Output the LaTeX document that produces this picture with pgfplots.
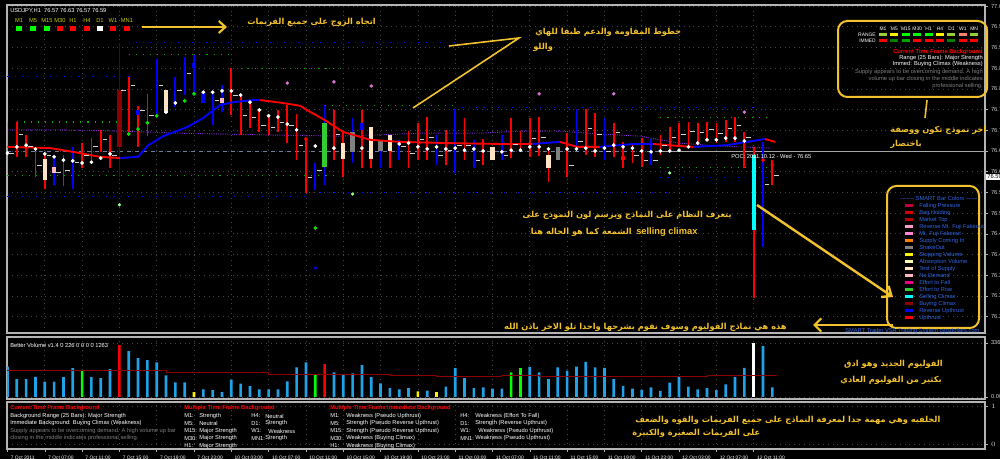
\documentclass[border=0pt]{standalone}
\usepackage{fontspec}
\setmainfont{Liberation Sans}
\newfontfamily\arabicfont[Script=Arabic]{DejaVu Sans}
\TeXXeTstate=1
\usepackage{pgfplots}
\usepackage{pgfplotstable}
\pgfplotsset{compat=1.18}
\usetikzlibrary{arrows.meta}

\definecolor{barred}{HTML}{FF0000}
\definecolor{barblue}{HTML}{0000FF}
\definecolor{bisq}{HTML}{FFE4C4}
\definecolor{pinkb}{HTML}{FFB6C1}
\definecolor{dred}{HTML}{8B0000}
\definecolor{effrise}{HTML}{32CD32}
\definecolor{shake}{HTML}{808080}
\definecolor{aqua}{HTML}{00FFFF}
\definecolor{salm}{HTML}{FA8072}
\definecolor{ygreen}{HTML}{9ACD32}
\definecolor{volblue}{HTML}{1FA2E8}
\definecolor{gold}{HTML}{F2C12E}
\definecolor{framegray}{HTML}{B4B4B4}
\definecolor{gridgray}{HTML}{444444}
\definecolor{labgray}{HTML}{D0D0D0}
\definecolor{legblue}{HTML}{3366E6}
\definecolor{tfyel}{HTML}{C8D000}
\definecolor{violetdot}{HTML}{DA70D6}
\definecolor{purpline}{HTML}{8A2BE2}

\newcommand\mt{\fontsize{4.3}{5}\selectfont}
\newcommand\tl{\fontsize{3.7}{4.5}\selectfont}
\newcommand\ar{\arabicfont\bfseries\fontsize{6.2}{7}\selectfont}

% price bars, H1 USDJPY: k = bar number, hi / lo
\pgfplotstableread{
k hi lo
1 76.720 76.636
2 76.689 76.636
3 76.652 76.587
4 76.645 76.558
6 76.640 76.565
8 76.669 76.609
9 76.681 76.628
10 76.701 76.648
11 76.689 76.609
13 76.829 76.696
14 76.759 76.660
15 76.788 76.686
24 76.850 76.737
25 76.785 76.689
26 76.768 76.706
27 76.749 76.696
28 76.737 76.689
29 76.749 76.696
30 76.761 76.669
31 76.739 76.628
32 76.681 76.549
35 76.749 76.628
36 76.696 76.587
38 76.749 76.609
39 76.708 76.609
41 76.689 76.609
43 76.698 76.609
44 76.718 76.628
45 76.732 76.628
47 76.701 76.616
49 76.730 76.628
51 76.679 76.616
54 76.730 76.633
55 76.698 76.648
56 76.730 76.636
57 76.732 76.638
58 76.660 76.575
60 76.693 76.587
62 76.751 76.640
63 76.742 76.636
65 76.718 76.636
66 76.672 76.609
67 76.669 76.621
68 76.681 76.611
70 76.689 76.640
71 76.708 76.648
72 76.718 76.660
73 76.720 76.664
74 76.718 76.669
75 76.720 76.677
76 76.718 76.669
77 76.725 76.672
78 76.732 76.672
79 76.696 76.609
80 76.660 76.295
82 76.628 76.568
}\redbars

\pgfplotstableread{
k hi lo
5 76.633 76.568
7 76.660 76.558
12 76.911 76.587
16 76.872 76.732
18 76.829 76.756
19 76.877 76.785
20 76.882 76.785
21 76.792 76.766
22 76.792 76.713
23 76.809 76.744
33 76.621 76.556
34 76.761 76.568
37 76.730 76.621
40 76.677 76.609
42 76.677 76.628
46 76.689 76.616
48 76.751 76.597
50 76.677 76.609
53 76.689 76.628
61 76.751 76.650
64 76.730 76.628
69 76.679 76.616
81 76.672 76.418
}\bluebars

% coloured VSA bodies: k top bot
\pgfplotstableread{
k hi lo
4 76.631 76.580
17 76.797 76.742
36 76.669 76.631
39 76.708 76.631
41 76.689 76.650
52 76.660 76.628
58 76.640 76.609
}\bisquebody

\pgfplotstableread{
k hi lo
5 76.611 76.597
23 76.778 76.766
}\pinkbody

\pgfplotstableread{
k hi lo
14 76.749 76.737
20 76.863 76.850
21 76.792 76.766
38 76.718 76.701
}\bluebody

\pgfplotstableread{
k hi lo
37 76.696 76.648
40 76.674 76.650
59 76.660 76.628
}\graybody

\pgfplotstableread{
k c
0 76.645
1 76.689
2 76.662
3 76.616
4 76.640
5 76.599
6 76.604
7 76.623
8 76.640
9 76.660
10 76.679
11 76.640
12 76.797
13 76.809
14 76.749
15 76.737
16 76.809
18 76.797
19 76.838
22 76.773
24 76.785
25 76.737
26 76.730
27 76.713
28 76.708
29 76.720
30 76.713
31 76.664
32 76.587
33 76.604
35 76.689
42 76.660
43 76.645
44 76.677
45 76.684
46 76.640
47 76.652
48 76.664
49 76.664
50 76.628
53 76.640
54 76.667
56 76.680
57 76.684
60 76.616
61 76.672
62 76.704
63 76.690
64 76.648
65 76.696
67 76.640
68 76.628
69 76.628
70 76.664
71 76.684
72 76.691
73 76.698
74 76.694
75 76.703
76 76.692
77 76.705
78 76.713
79 76.684
81 76.570
82 76.590
}\closes

\pgfplotstableread{
k p
0 76.645
1 76.660
2 76.664
3 76.655
4 76.643
5 76.636
6 76.628
7 76.626
8 76.621
9 76.623
10 76.633
11 76.643
17 76.744
18 76.766
21 76.792
22 76.792
23 76.795
24 76.795
25 76.785
26 76.768
27 76.749
28 76.735
29 76.732
30 76.715
31 76.701
33 76.662
35 76.657
38 76.657
42 76.667
43 76.669
44 76.660
45 76.655
46 76.660
47 76.655
48 76.657
49 76.652
50 76.655
51 76.650
53 76.648
54 76.652
55 76.652
56 76.660
57 76.660
58 76.655
60 76.655
61 76.655
62 76.657
63 76.650
64 76.657
65 76.664
66 76.660
67 76.657
68 76.650
69 76.648
70 76.650
71 76.650
72 76.652
73 76.660
74 76.669
75 76.677
76 76.677
77 76.681
78 76.681
79 76.674
}\whitedots

% volume
\pgfplotstableread{
k v
0 1890
1 1120
2 1120
3 1260
4 950
5 950
6 1240
7 1800
9 1240
10 1180
11 1740
13 2860
14 2420
15 2300
16 2150
17 1350
18 910
19 910
21 480
22 420
23 310
24 1080
25 830
26 680
27 480
28 480
29 480
30 970
31 1850
32 2150
35 1530
36 1370
37 1470
38 1990
39 1240
40 850
41 560
42 480
43 560
45 400
47 640
48 1800
49 1180
50 560
51 600
52 520
53 520
56 1870
57 1540
58 1120
59 1850
60 1640
61 1890
62 2180
63 1850
64 1810
65 1120
66 700
67 520
68 450
69 600
70 380
71 900
72 1230
73 650
74 480
75 560
76 420
77 780
78 1230
79 1810
81 3180
82 600
}\volb

\pgfplotsset{
  hl/.style={draw=none, mark=none, forget plot, error bars/.cd, y dir=plus, y explicit,
    error mark=none, error bar style={draw=#1, line width=1.3pt}},
  bd/.style={draw=none, mark=none, forget plot, error bars/.cd, y dir=plus, y explicit,
    error mark=none, error bar style={draw=#1, line width=3.2pt}},
  sr/.style={dash pattern=on 0.8pt off 4.5pt, line width=0.8pt, draw=#1},
  mtpanel/.style={scale only axis, anchor=north west, width=733.5pt,
    xmin=-0.05, xmax=104.8, axis background/.style={fill=black},
    axis line style={draw=framegray, line width=1.1pt},
    xtick={0,4,...,80}, xtick pos=bottom, ytick pos=right, yticklabel pos=right,
    tick align=outside, major tick length=2pt,
    tick style={draw=framegray, line width=0.4pt},
    grid=major, grid style={dash pattern=on 0.6pt off 3pt, draw=gridgray, line width=0.5pt},
    yticklabel style={font=\mt, text=labgray, xshift=-1pt},
    scaled y ticks=false},
}

\begin{document}
\begin{tikzpicture}
\fill[black] (0,0) rectangle (750pt,-344.25pt);

% ---------- price panel ----------
\begin{axis}[mtpanel, at={(5.25pt,-3.75pt)}, height=246pt,
  ymin=76.2105, ymax=77.0026, xticklabels={}, xtick style={draw=none},
  ytick={76.25,76.3,76.35,76.4,76.45,76.5,76.55,76.6,76.65,76.7,76.75,76.8,76.85,76.9,76.95,77},
  yticklabel={\pgfmathprintnumber[fixed,fixed zerofill,precision=2,assume math mode=true]{\tick}}]
% support / resistance dots
\addplot[sr=barblue] coordinates {(0,76.829)(13,76.829)};
\addplot[sr=barblue] coordinates {(13,76.911)(48,76.911)};
\addplot[sr=barblue] coordinates {(48,76.754)(80,76.754)};
\addplot[sr=barblue] coordinates {(0,76.541)(32,76.541)};
\addplot[sr=barblue] coordinates {(32,76.549)(72,76.549)};
\addplot[sr=barblue] coordinates {(70,76.587)(82,76.587)};
\addplot[sr=green!70!black] coordinates {(13,76.882)(24,76.882)};
\addplot[sr=green!70!black] coordinates {(25,76.850)(36,76.850)};
\addplot[sr=green!70!black] coordinates {(34,76.759)(48,76.759)};
\addplot[sr=green!70!black] coordinates {(1,76.720)(12,76.720)};
\addplot[sr=green!70!black] coordinates {(0,76.590)(35,76.590)};
\addplot[sr=green!70!black] coordinates {(70,76.730)(82,76.730)};
\addplot[sr=green!70!black] coordinates {(70,76.611)(82,76.611)};
% POC line
\addplot[dashed, draw={rgb,255:red,110;green,125;blue,160}, line width=0.6pt] coordinates {(-0.05,76.65)(70,76.65)};
\addplot[draw=gray!70, line width=0.7pt] coordinates {(70,76.65)(104.8,76.65)};
% purple dotted line
\addplot[densely dotted, purpline, line width=0.7pt] coordinates {(0,76.701)(6,76.701)(12.1,76.698)(18.5,76.693)(27,76.689)(35.7,76.686)(40,76.689)(44,76.693)(50.7,76.693)(55,76.698)(59.2,76.698)(63.5,76.691)(67.8,76.686)(72,76.669)(76.4,76.662)(81.8,76.657)};
% bars
\addplot[hl=barred] table[x=k, y=lo, y error expr=\thisrow{hi}-\thisrow{lo}] {\redbars};
\addplot[hl=barblue] table[x=k, y=lo, y error expr=\thisrow{hi}-\thisrow{lo}] {\bluebars};
\addplot[hl=salm] coordinates {(0,76.597) +- (0,0.123)};
\addplot[hl=bisq] table[x=k, y=lo, y error expr=\thisrow{hi}-\thisrow{lo}] {\bisquebody};
\addplot[bd=bisq] table[x=k, y=lo, y error expr=\thisrow{hi}-\thisrow{lo}] {\bisquebody};
\addplot[bd=pinkb] table[x=k, y=lo, y error expr=\thisrow{hi}-\thisrow{lo}] {\pinkbody};
\addplot[bd=barblue] table[x=k, y=lo, y error expr=\thisrow{hi}-\thisrow{lo}] {\bluebody};
\addplot[bd=shake] table[x=k, y=lo, y error expr=\thisrow{hi}-\thisrow{lo}] {\graybody};
\addplot[bd=dred] coordinates {(12,76.660) +- (0,0.137)};
\addplot[bd=effrise] coordinates {(34,76.611) +- (0,0.107)};
\addplot[bd=aqua] coordinates {(80,76.459) +- (0,0.181)};
\addplot[bd=barred] coordinates {(66,76.628) +- (0,0.010)};
% close ticks
\addplot[only marks, mark=-, mark size=1.7pt, mark options={draw=gray!35, line width=0.6pt}]
  table[x expr=\thisrow{k}+0.45, y=c] {\closes};
% moving average
\addplot[barred, line width=1.4pt] coordinates {(0,76.660)(4.6,76.657)(7,76.648)(9.9,76.636)(12.1,76.633)};
\addplot[barblue, line width=1.4pt] coordinates {(12.1,76.633)(14,76.636)(15.1,76.664)(16.7,76.686)(19.3,76.708)(21,76.730)(22.8,76.761)(24.2,76.768)(26.3,76.773)(27.1,76.773)};
\addplot[barred, line width=1.4pt] coordinates {(27.1,76.773)(29.5,76.766)(31.4,76.759)(32.1,76.749)(34,76.725)(36,76.696)(38.9,76.677)(42.1,76.672)(47.4,76.669)(52.8,76.667)(56.3,76.667)};
\addplot[barblue, line width=1.4pt] coordinates {(56.3,76.667)(59.2,76.672)};
\addplot[barred, line width=1.4pt] coordinates {(59.2,76.672)(61.1,76.660)(63.5,76.660)};
\addplot[barblue, line width=1.4pt] coordinates {(63.5,76.660)(67.1,76.667)(69.2,76.667)};
\addplot[barred, line width=1.4pt] coordinates {(69.2,76.667)(72.1,76.662)(73.5,76.660)};
\addplot[barblue, line width=1.4pt] coordinates {(73.5,76.660)(77.1,76.664)(81.2,76.679)};
\addplot[barred, line width=1.4pt] coordinates {(81.2,76.679)(82.3,76.672)};
% dots
\addplot[only marks, mark=*, mark size=1.2pt, white] table[x=k, y=p] {\whitedots};
\addplot[only marks, mark=*, mark size=1.2pt, green!90!black] coordinates {(13,76.691)(14,76.703)(15,76.718)(16,76.735)(19,76.771)(20,76.788)(33,76.464)};
\addplot[only marks, mark=*, mark size=1pt, green!45!white] coordinates {(12,76.520)(37,76.546)(71,76.597)};
\addplot[only marks, mark=*, mark size=1pt, barblue] coordinates {(33,76.367)};
\addplot[only marks, mark=*, mark size=1.2pt, barred] coordinates {(32,76.679)(81,76.628)(82,76.616)};
\addplot[only marks, mark=*, mark size=1.1pt, violetdot] coordinates {(30,76.814)(35,76.817)(39,76.807)(57,76.788)(65,76.788)(79,76.744)};
\end{axis}

% ---------- volume panel ----------
\begin{axis}[mtpanel, at={(5.25pt,-252.75pt)}, height=46.5pt,
  ymin=-125, ymax=3736, xticklabels={}, xtick style={draw=none},
  ytick={0,3362}, yticklabels={0.00,3362}]
\addplot[ybar, bar width=2pt, bar shift=0pt, fill=volblue, draw=none] table[x=k, y=v] {\volb};
\addplot[ybar, bar width=2pt, bar shift=0pt, fill=green, draw=none] coordinates {(8,1680)(33,1410)(54,1540)(55,1790)};
\addplot[ybar, bar width=2pt, bar shift=0pt, fill=barred, draw=none] coordinates {(12,3250)(34,2050)};
\addplot[ybar, bar width=2pt, bar shift=0pt, fill=yellow, draw=none] coordinates {(20,310)(44,350)(46,310)};
\addplot[ybar, bar width=2pt, bar shift=0pt, fill=white, draw=none] coordinates {(80,3362)};
\addplot[const plot, draw=red!55!black, line width=0.6pt] coordinates {(-0.05,1640)(17,1520)(28,1430)(41,1330)(46,1265)(53,1330)(57,1265)(75,1330)(82.5,1330)};
\end{axis}

% ---------- background panel ----------
\begin{axis}[mtpanel, at={(5.25pt,-301.5pt)}, height=35.25pt,
  ymin=-0.132, ymax=1.105, ytick={0,1},
  xticklabels={7 Oct 2011,7 Oct 07:00,7 Oct 11:00,7 Oct 15:00,7 Oct 19:00,7 Oct 23:00,10 Oct 03:00,10 Oct 07:00,10 Oct 11:00,10 Oct 15:00,10 Oct 19:00,10 Oct 23:00,11 Oct 03:00,11 Oct 07:00,11 Oct 11:00,11 Oct 15:00,11 Oct 19:00,11 Oct 23:00,12 Oct 03:00,12 Oct 07:00,12 Oct 11:00},
  xticklabel style={font=\tl, text=white, anchor=north west, xshift=-1pt}]
\end{axis}

% ---------- annotations (pixel units) ----------
\begin{scope}[x=0.75pt, y=-0.75pt]
\node[anchor=west, text=white, font=\mt, inner sep=0] at (10,11) {USDJPY,H1\ \ 76.57 76.63 76.57 76.59};
\foreach \lab/\cx/\col [count=\i] in {M1/19/green, M5/33/green, M15/47/green, M30/60/red, H1/73/red, H4/87/red, D1/100/white, W1/113/red, MN1/127/red} {
  \node[text=tfyel, font=\mt, inner sep=0] at (\cx,21) {\lab};
  \fill[\col] (\cx-2.8,26.5) rectangle (\cx+2.8,31.5);
}
\node[anchor=west, text=white, font=\mt, inner sep=0] at (10,345) {Better Volume v1.4 0 226 0 0 0 0 1263};
\node[anchor=west, text=white, font=\mt, inner sep=0] at (731,156) {POC: 2011.10.12 - Wed - 76.65};
\node[anchor=west, fill=white, text=black, font=\mt, inner sep=0.8pt] at (986,177) {76.59};

% top right box
\draw[gold, line width=1.5pt, rounded corners=7pt] (838,21) rectangle (987,97);
\foreach \lab/\rc/\ic [count=\i] in {M1/ygreen/red, M5/yellow/green!50!black, M15/green/green!65!black, M30/green/red, H1/green/red, H4/yellow/red, D1/ygreen/green!50!black, W1/salm/red, MN/ygreen/red} {
  \pgfmathsetmacro\cx{883+11.4*(\i-1)}
  \node[text=white, font=\tl, inner sep=0] at (\cx,29) {\lab};
  \fill[\rc] (\cx-4,33) rectangle (\cx+4,36);
  \fill[\ic] (\cx-4,39) rectangle (\cx+4,42);
}
\node[anchor=east, text=white, font=\tl, inner sep=0] at (876,34.5) {RANGE};
\node[anchor=east, text=white, font=\tl, inner sep=0] at (876,40.5) {IMMED};
\node[anchor=east, text=red, font=\mt\bfseries, inner sep=0] at (983,52) {Current Time Frame Background};
\node[anchor=east, text=white, font=\mt, inner sep=0] at (983,58) {Range (25 Bars): Major Strength};
\node[anchor=east, text=white, font=\mt, inner sep=0] at (983,64) {Immed: Buying Climax (Weakness)};
\node[anchor=east, text=gray, font=\mt, inner sep=0] at (983,72) {Supply appears to be overcoming demand. A high};
\node[anchor=east, text=gray, font=\mt, inner sep=0] at (983,79) {volume up bar closing in the middle indicates};
\node[anchor=east, text=gray, font=\mt, inner sep=0] at (983,86) {professional selling.};

% legend box
\draw[gold, line width=1.5pt, rounded corners=7pt] (887,186) rectangle (979,328);
\node[text=legblue, font=\mt, inner sep=0] at (940,198) {------- SMART Bar Colors -------};
\foreach \c/\t [count=\i] in {purple/Falling Pressure, {red!85!black}/Bag Holding, {red!75!black}/Market Top, {pink!80!magenta}/Reverse Mt. Fuji Fakeout, {pink!70!magenta}/Mt. Fuji Fakeout, orange/Supply Coming In, gray/ShakeOut, yellow/Stopping Volume, {yellow!30!white}/Absorption Volume, bisq/Test of Supply, pinkb/No Demand, magenta/Effort to Fall, effrise/Effort to Rise, aqua/Selling Climax, dred/Buying Climax, barblue/Reverse Upthrust, barred/Upthrust} {
  \pgfmathsetmacro\yy{205.7+7*(\i-1)}
  \fill[\c] (905,\yy-1.2) rectangle (913,\yy+1.2);
  \node[anchor=west, text=legblue, font=\mt, inner sep=0] at (919,\yy) {\t};
}
\node[anchor=west, text=legblue, font=\mt, inner sep=0] at (845,331) {SMART Trader VSA Trading System pipsdollars.com};

% background panel texts
\node[anchor=west, text=red, font=\mt\bfseries, inner sep=0] at (10,408) {Current Time Frame Background};
\node[anchor=west, text=white, font=\mt, inner sep=0] at (10,416) {Background Range (25 Bars): Major Strength};
\node[anchor=west, text=white, font=\mt, inner sep=0] at (10,423.5) {Immediate Background: Buying Climax (Weakness)};
\node[anchor=west, text=gray, font=\mt, inner sep=0] at (10,431) {Supply appears to be overcoming demand. A high volume up bar};
\node[anchor=west, text=gray, font=\mt, inner sep=0] at (10,438.5) {closing in the middle indicates professional selling.};
\node[anchor=west, text=red, font=\mt\bfseries, inner sep=0] at (184,408) {Multiple Time Frame Background};
\foreach \a/\b/\c/\d [count=\i] in {M1:/Strength/H4:/Neutral, M5:/Neutral/D1:/Strength, M15:/Major Strength/W1:/\ \ Weakness, M30:/Major Strength/MN1:/Strength, H1:/Major Strength//} {
  \pgfmathsetmacro\yy{416+7.5*(\i-1)}
  \node[anchor=west, text=white, font=\mt, inner sep=0] at (184,\yy) {\a};
  \node[anchor=west, text=white, font=\mt, inner sep=0] at (199,\yy) {\b};
  \node[anchor=west, text=white, font=\mt, inner sep=0] at (251,\yy) {\c};
  \node[anchor=west, text=white, font=\mt, inner sep=0] at (265,\yy) {\d};
}
\node[anchor=west, text=red, font=\mt\bfseries, inner sep=0] at (330,408) {Multiple Time Frame Immediate Background};
\foreach \a/\b/\c/\d [count=\i] in {M1:/Weakness (Pseudo Upthrust)/H4:/Weakness (Effort To Fall), M5:/Strength (Pseudo Reverse Upthrust)/D1:/Strength (Reverse Upthrust), M15:/Strength (Pseudo Reverse Upthrust)/W1:/\ \ Weakness (Pseudo Upthrust), M30:/Weakness (Buying Climax)/MN1:/Weakness (Pseudo Upthrust), H1:/Weakness (Buying Climax)//} {
  \pgfmathsetmacro\yy{416+7.5*(\i-1)}
  \node[anchor=west, text=white, font=\mt, inner sep=0] at (330,\yy) {\a};
  \node[anchor=west, text=white, font=\mt, inner sep=0] at (346,\yy) {\b};
  \node[anchor=west, text=white, font=\mt, inner sep=0] at (460,\yy) {\c};
  \node[anchor=west, text=white, font=\mt, inner sep=0] at (475,\yy) {\d};
}

% arabic notes and arrows
\draw[gold, line width=1.6pt, -{Straight Barb[length=5pt,width=9pt]}] (142,27) -- (227,27);
\node[anchor=west, text=gold, inner sep=0] at (247,22) {\ar\beginR اتجاه الزوج على جميع الفريمات\endR};
\draw[gold, line width=1.2pt] (449,46) -- (519,38) -- (413,108);
\node[anchor=west, text=gold, inner sep=0] at (535,32) {\ar\beginR خطوط المقاومة والدعم طبقا للهاي\endR};
\node[anchor=west, text=gold, inner sep=0] at (533,47) {\ar\beginR واللو\endR};
\draw[gold, line width=1.2pt] (927,100) -- (925,118);
\node[anchor=west, text=gold, inner sep=0] at (890,130) {\ar\beginR اخر نموذج تكون ووصفة\endR};
\node[anchor=west, text=gold, inner sep=0] at (890,144) {\ar\beginR باختصار\endR};
\draw[gold, line width=1.8pt, -{Straight Barb[length=6pt,width=10pt]}] (757,205) -- (893,297);
\node[anchor=east, text=gold, inner sep=0] at (732,215) {\ar\beginR يتعرف النظام على النماذج ويرسم لون النموذج على\endR};
\node[anchor=east, text=gold, inner sep=0] at (632,232) {\ar\beginR الشمعة كما هو الحاله هنا\endR};
\node[anchor=west, text=gold, inner sep=0, font=\fontsize{7}{8}\selectfont\bfseries] at (636,232) {selling climax};
\draw[gold, line width=1.6pt, -{Straight Barb[length=5pt,width=10pt]}] (893,325) -- (813,325);
\node[anchor=east, text=gold, inner sep=0] at (787,327) {\ar\beginR هذه هي نماذج الفوليوم وسوف نقوم بشرحها واحدا تلو الاخر باذن الله\endR};
\node[anchor=east, text=gold, inner sep=0] at (943,364) {\ar\beginR الفوليوم الجديد وهو ادق\endR};
\node[anchor=east, text=gold, inner sep=0] at (942,380) {\ar\beginR بكثير من الفوليوم العادي\endR};
\node[anchor=west, text=gold, inner sep=0] at (635,420) {\ar\beginR الخلفيه وهي مهمة جدا لمعرفة النماذج على جميع الفريمات والقوه والضعف\endR};
\node[anchor=west, text=gold, inner sep=0] at (632,433) {\ar\beginR على الفريمات الصغيرة والكبيرة\endR};
\end{scope}

\pgfresetboundingbox
\path[use as bounding box] (0,0) rectangle (750pt,-344.25pt);
\end{tikzpicture}
\end{document}
